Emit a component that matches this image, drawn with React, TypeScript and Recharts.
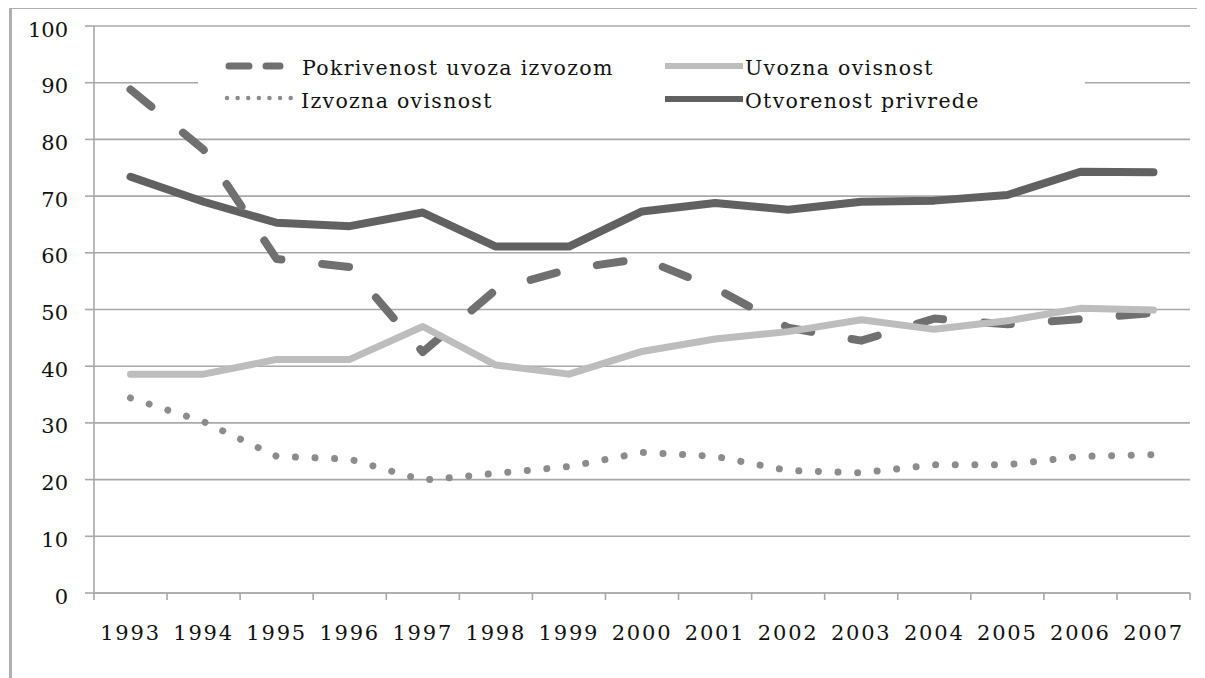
import React from 'react';
import { LineChart, Line, XAxis, YAxis, CartesianGrid, Legend } from 'recharts';

const years = ['1993', '1994', '1995', '1996', '1997', '1998', '1999', '2000', '2001', '2002', '2003', '2004', '2005', '2006', '2007'];
const pokrivenost = [88.8, 78.2, 58.9, 57.5, 42.5, 53.5, 57.1, 59.0, 53.8, 46.8, 44.5, 48.4, 47.4, 48.3, 49.4];
const uvozna = [38.6, 38.6, 41.2, 41.2, 47.0, 40.2, 38.6, 42.6, 44.8, 46.1, 48.2, 46.5, 48.0, 50.2, 49.9];
const izvozna = [34.4, 30.2, 24.1, 23.6, 19.9, 21.1, 22.3, 24.8, 24.1, 21.6, 21.2, 22.6, 22.6, 24.1, 24.4];
const otvorenost = [73.4, 69.0, 65.3, 64.7, 67.1, 61.1, 61.1, 67.3, 68.8, 67.6, 69.0, 69.2, 70.2, 74.3, 74.2];
const yTicks = [0, 10, 20, 30, 40, 50, 60, 70, 80, 90, 100];

const seriesNames = ['Pokrivenost uvoza izvozom', 'Uvozna ovisnost', 'Izvozna ovisnost', 'Otvorenost privrede'];

const data = years.map((year, i) => ({
  year,
  pok: pokrivenost[i],
  uvo: uvozna[i],
  izv: izvozna[i],
  otv: otvorenost[i],
}));

const FONT = '"DejaVu Serif", serif';
const GRID = '#a8a8a8';
const C_POK = '#707070';
const C_UVO = '#bdbdbd';
const C_IZV = '#8c8c8c';
const C_OTV = '#616161';
const HALF_BAND = 36.53;

const css = `
.pok-line .recharts-line-curve { stroke-dasharray: 27 41 !important; }
.izv-line .recharts-line-curve { stroke-dasharray: 0.01 19.6 !important; }
`;

const YTick = (props: any) => {
  const { x, y, payload } = props;
  return (
    <text x={x} y={y + 10.5} textAnchor="end" fontFamily={FONT} fontSize={21} fill="#111">
      {payload.value}
    </text>
  );
};

const XTick = (props: any) => {
  const { x, y, payload, index } = props;
  const isLast = index === years.length - 1;
  return (
    <g>
      <line x1={x - HALF_BAND} y1={y} x2={x - HALF_BAND} y2={y + 7} stroke={GRID} strokeWidth={1.6} />
      {isLast && (
        <line x1={x + HALF_BAND} y1={y} x2={x + HALF_BAND} y2={y + 7} stroke={GRID} strokeWidth={1.6} />
      )}
      <text x={x} y={y + 47} textAnchor="middle" fontFamily={FONT} fontSize={21} letterSpacing={1.8} fill="#111">
        {payload.value}
      </text>
    </g>
  );
};

const LegendContent = () => {
  const textStyle = { fontFamily: FONT, fontSize: 20.5, letterSpacing: 1.3, fill: '#111' } as any;
  return (
    <svg width={887} height={82} style={{ display: 'block', background: '#fff' }}>
      <line x1={31} y1={26} x2={82} y2={26} stroke={C_POK} strokeWidth={7} strokeDasharray="20 17" strokeLinecap="round" />
      <text x={104} y={35} {...textStyle}>{seriesNames[0]}</text>
      <line x1={467} y1={26} x2={545} y2={26} stroke={C_UVO} strokeWidth={6} />
      <text x={547} y={35} {...textStyle}>{seriesNames[1]}</text>
      <line x1={29} y1={58} x2={94} y2={58} stroke={C_IZV} strokeWidth={4.5} strokeDasharray="0.01 10.6" strokeLinecap="round" />
      <text x={103} y={68} {...textStyle}>{seriesNames[2]}</text>
      <line x1={467} y1={59} x2={545} y2={59} stroke={C_OTV} strokeWidth={6} />
      <text x={547} y={68} {...textStyle}>{seriesNames[3]}</text>
    </svg>
  );
};

export default function App() {
  return (
    <div style={{ position: 'relative', width: 1197, height: 670 }}>
      <style>{css}</style>
      <div
        style={{
          position: 'absolute',
          left: 1,
          top: -1,
          width: 1300,
          height: 800,
          borderLeft: '3px solid #b0b0b0',
          borderTop: '2.5px solid #b0b0b0',
          boxSizing: 'border-box',
        }}
      />
      <div style={{ position: 'absolute', left: 0, top: 0 }}>
        <LineChart width={1190} height={660} data={data} margin={{ top: 18, right: 8, bottom: 0, left: 0 }}>
          <CartesianGrid vertical={false} stroke={GRID} strokeWidth={1.6} xAxisId="cat" yAxisId="y" />
          <XAxis
            xAxisId="cat"
            dataKey="year"
            type="category"
            padding={{ left: 36.5, right: 36.5 }}
            height={75}
            axisLine={{ stroke: GRID, strokeWidth: 1.6 }}
            tickLine={false}
            tickSize={0}
            tickMargin={0}
            interval={0}
            tick={<XTick />}
          />
          <YAxis
            yAxisId="y"
            domain={[0, 100]}
            ticks={yTicks}
            width={86}
            tickSize={9}
            tickMargin={17}
            interval={0}
            axisLine={{ stroke: GRID, strokeWidth: 1.6 }}
            tickLine={{ stroke: GRID, strokeWidth: 1.6 }}
            tick={<YTick />}
          />
          <Legend
            layout="vertical"
            align="center"
            verticalAlign="middle"
            wrapperStyle={{ top: 32, left: 190, width: 887, height: 82 }}
            content={<LegendContent />}
          />
          <Line
            className="izv-line"
            xAxisId="cat"
            yAxisId="y"
            dataKey="izv"
            name={seriesNames[2]}
            stroke={C_IZV}
            strokeWidth={7}
            strokeLinecap="round"
            dot={false}
            activeDot={false}
            isAnimationActive={false}
          />
          <Line
            xAxisId="cat"
            yAxisId="y"
            dataKey="otv"
            name={seriesNames[3]}
            stroke={C_OTV}
            strokeWidth={8}
            strokeLinecap="round"
            strokeLinejoin="round"
            dot={false}
            activeDot={false}
            isAnimationActive={false}
          />
          <Line
            className="pok-line"
            xAxisId="cat"
            yAxisId="y"
            dataKey="pok"
            name={seriesNames[0]}
            stroke={C_POK}
            strokeWidth={8}
            strokeLinecap="round"
            strokeLinejoin="round"
            dot={false}
            activeDot={false}
            isAnimationActive={false}
          />
          <Line
            xAxisId="cat"
            yAxisId="y"
            dataKey="uvo"
            name={seriesNames[1]}
            stroke={C_UVO}
            strokeWidth={7}
            strokeLinecap="round"
            strokeLinejoin="round"
            dot={false}
            activeDot={false}
            isAnimationActive={false}
          />
        </LineChart>
      </div>
    </div>
  );
}
